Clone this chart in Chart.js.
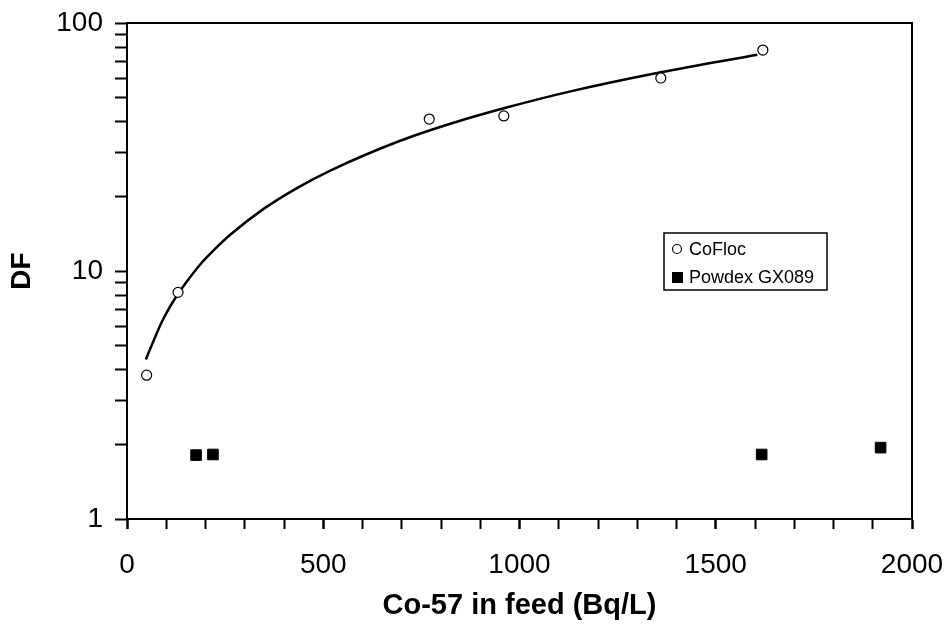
<!DOCTYPE html>
<html>
<head>
<meta charset="utf-8">
<script src="https://cdn.jsdelivr.net/npm/chart.js@4"></script>
<style>
  html, body { margin: 0; padding: 0; background: #fff; }
  #wrap { width: 945px; height: 631px; }
</style>
</head>
<body>
<div id="wrap"><canvas id="grafico" width="945" height="631"></canvas></div>
<script>
// CoFloc measured points
const cofloc_x = [50, 130, 770, 960, 1360, 1620];
const cofloc_y = [3.8, 8.2, 41, 42.2, 60, 77.8];

// Powdex GX089 measured points
const powdex_x = [176, 219, 1617, 1920];
const powdex_y = [1.81, 1.82, 1.82, 1.94];

// trend curve through CoFloc
const trend_x = [48, 67, 88, 110, 127, 152, 186, 225, 263, 348, 433, 518, 696, 832, 960, 1130, 1360, 1606];
const trend_y = [4.4, 5.2, 6.2, 7.2, 7.95, 9.05, 10.6, 12.3, 14.0, 17.8, 21.6, 25.4, 33.5, 39.6, 45.3, 53.0, 63.3, 74.5];

const yTicks = [1, 2, 3, 4, 5, 6, 7, 8, 9, 10, 20, 30, 40, 50, 60, 70, 80, 90, 100];
const yLabels = [1, 10, 100];

const toPts = (xs, ys) => xs.map((x, i) => ({ x: x, y: ys[i] }));

const fonte = 'Liberation Sans, Arial, sans-serif';

// moldura + legenda dentro da area do grafico
const moldura = {
    id: 'moldura',
    afterDraw(chart) {
        const c = chart.ctx;
        const a = chart.chartArea;
        c.save();
        c.strokeStyle = '#000';
        c.lineWidth = 2;
        c.strokeRect(a.left, a.top, a.right - a.left, a.bottom - a.top);

        // legenda
        const lx = 664, ly = 233, lw = 163, lh = 57;
        c.lineWidth = 1.5;
        c.fillStyle = '#fff';
        c.fillRect(lx, ly, lw, lh);
        c.strokeRect(lx, ly, lw, lh);
        c.font = '18px ' + fonte;
        c.textBaseline = 'middle';
        c.fillStyle = '#000';
        const itens = chart.data.datasets.filter(d => d.label);
        itens.forEach((d, i) => {
            const y = ly + 16 + i * 28;
            if (d.pointStyle === 'rect') {
                c.fillRect(lx + 8, y - 5, 11, 11);
            } else {
                c.lineWidth = 1.2;
                c.beginPath();
                c.arc(lx + 13, y, 4.5, 0, Math.PI * 2);
                c.stroke();
            }
            c.fillText(d.label, lx + 25, y + 1);
        });
        c.restore();
    }
};

const config = {
    type: 'scatter',
    data: {
        datasets: [
            {
                label: 'CoFloc',
                data: toPts(cofloc_x, cofloc_y),
                pointStyle: 'circle',
                pointRadius: 5,
                pointBorderWidth: 1.2,
                borderColor: '#000',
                backgroundColor: '#fff',
                showLine: false
            },
            {
                label: 'Powdex GX089',
                data: toPts(powdex_x, powdex_y),
                pointStyle: 'rect',
                pointRadius: 7.5,
                borderColor: '#000',
                backgroundColor: '#000',
                showLine: false
            },
            {
                label: '',
                data: toPts(trend_x, trend_y),
                showLine: true,
                pointRadius: 0,
                borderColor: '#000',
                borderWidth: 2.5,
                cubicInterpolationMode: 'monotone'
            }
        ]
    },
    options: {
        responsive: false,
        animation: false,
        layout: { padding: { top: 23, right: 33, left: 0, bottom: 0 } },
        plugins: {
            legend: { display: false },
            tooltip: { enabled: false }
        },
        scales: {
            x: {
                type: 'linear',
                min: 0,
                max: 2000,
                afterFit: s => {
                    s.height = 631 - 519;
                    s.paddingLeft = 0;
                    s.paddingRight = 0;
                },
                afterBuildTicks: s => {
                    const t = [];
                    for (let v = 0; v <= 2000; v += 100) t.push({ value: v });
                    s.ticks = t;
                },
                border: { color: '#000', width: 2 },
                grid: {
                    drawOnChartArea: false,
                    drawTicks: true,
                    tickLength: 10,
                    tickColor: '#000',
                    tickWidth: ctx => (ctx.tick && ctx.tick.value % 500 === 0 ? 2.5 : 2)
                },
                ticks: {
                    autoSkip: false,
                    maxRotation: 0,
                    padding: 19,
                    color: '#000',
                    font: { family: fonte, size: 28 },
                    callback: v => (v % 500 === 0 ? String(v) : '')
                },
                title: {
                    display: true,
                    text: 'Co-57 in feed (Bq/L)',
                    color: '#000',
                    font: { family: fonte, size: 29, weight: 'bold' },
                    padding: { top: 0, bottom: 8 }
                }
            },
            y: {
                type: 'logarithmic',
                min: 1,
                max: 100,
                afterFit: s => {
                    s.width = 127;
                    s.paddingTop = 0;
                    s.paddingBottom = 0;
                },
                afterBuildTicks: s => {
                    s.ticks = yTicks.map(v => ({ value: v }));
                },
                border: { color: '#000', width: 2 },
                grid: {
                    drawOnChartArea: false,
                    drawTicks: true,
                    tickLength: 12,
                    tickColor: '#000',
                    tickWidth: 2
                },
                ticks: {
                    autoSkip: false,
                    padding: 12,
                    color: '#000',
                    font: { family: fonte, size: 28 },
                    callback: v => (yLabels.includes(v) ? String(v) : '')
                },
                title: {
                    display: true,
                    text: 'DF',
                    color: '#000',
                    font: { family: fonte, size: 28, weight: 'bold' },
                    padding: { top: 5, bottom: 0 }
                }
            }
        }
    },
    plugins: [moldura]
};

new Chart(document.getElementById('grafico'), config);
</script>
</body>
</html>
